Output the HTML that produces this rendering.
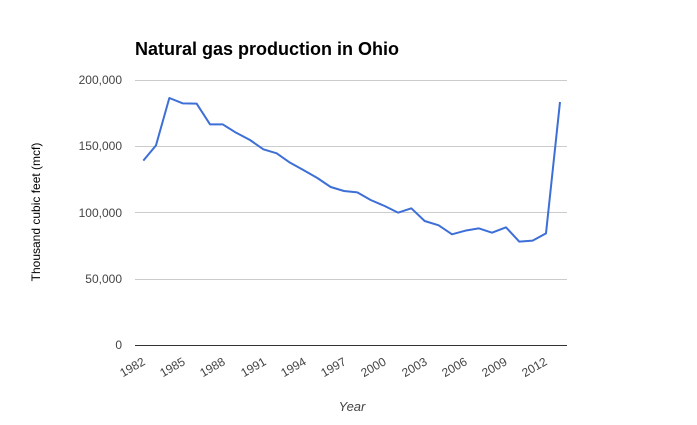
<!DOCTYPE html>
<html><head><style>body{margin:0;background:#fff}svg{display:block}</style></head><body>
<svg width="697" height="425" xmlns="http://www.w3.org/2000/svg" font-family="Liberation Sans, Arial, sans-serif">
<rect width="697" height="425" fill="#fff"/>
<text x="135" y="55" font-size="18" font-weight="bold" fill="#000">Natural gas production in Ohio</text>
<g stroke="#ccc" stroke-width="1">
<line x1="135" x2="567" y1="80.5" y2="80.5"/>
<line x1="135" x2="567" y1="146.5" y2="146.5"/>
<line x1="135" x2="567" y1="212.5" y2="212.5"/>
<line x1="135" x2="567" y1="279.5" y2="279.5"/>
</g>
<line x1="135" x2="567" y1="345.5" y2="345.5" stroke="#333" stroke-width="1"/>
<g font-size="12" fill="#444" text-anchor="end">
<text x="122" y="84">200,000</text>
<text x="122" y="150">150,000</text>
<text x="122" y="217">100,000</text>
<text x="122" y="283">50,000</text>
<text x="122" y="349">0</text>
</g>
<text transform="translate(40,212) rotate(-90)" font-size="12" fill="#000" text-anchor="middle">Thousand cubic feet (mcf)</text>
<g font-size="12" fill="#444" text-anchor="end">
<text transform="translate(146,364) rotate(-30)">1982</text>
<text transform="translate(186,364) rotate(-30)">1985</text>
<text transform="translate(226,364) rotate(-30)">1988</text>
<text transform="translate(267,364) rotate(-30)">1991</text>
<text transform="translate(307,364) rotate(-30)">1994</text>
<text transform="translate(347,364) rotate(-30)">1997</text>
<text transform="translate(387,364) rotate(-30)">2000</text>
<text transform="translate(428,364) rotate(-30)">2003</text>
<text transform="translate(468,364) rotate(-30)">2006</text>
<text transform="translate(508,364) rotate(-30)">2009</text>
<text transform="translate(548,364) rotate(-30)">2012</text>
</g>
<text x="352" y="411" font-size="13" font-style="italic" fill="#444" text-anchor="middle">Year</text>
<g transform="translate(120,60) scale(0.33333)">
<polyline fill="none" stroke="#3d6fd6" stroke-width="6" stroke-linejoin="round" points="70,302 108,256 148,114 188,130 230,131 270,193 308,193 348,218 390,240 430,268 470,280 510,308 550,330 592,354 632,381 672,393 712,397 752,420 794,438 834,458 874,445 914,483 956,496 996,523 1036,512 1076,505 1116,518 1158,502 1198,545 1238,542 1278,520 1320,126"/>
</g>
</svg>
</body></html>
